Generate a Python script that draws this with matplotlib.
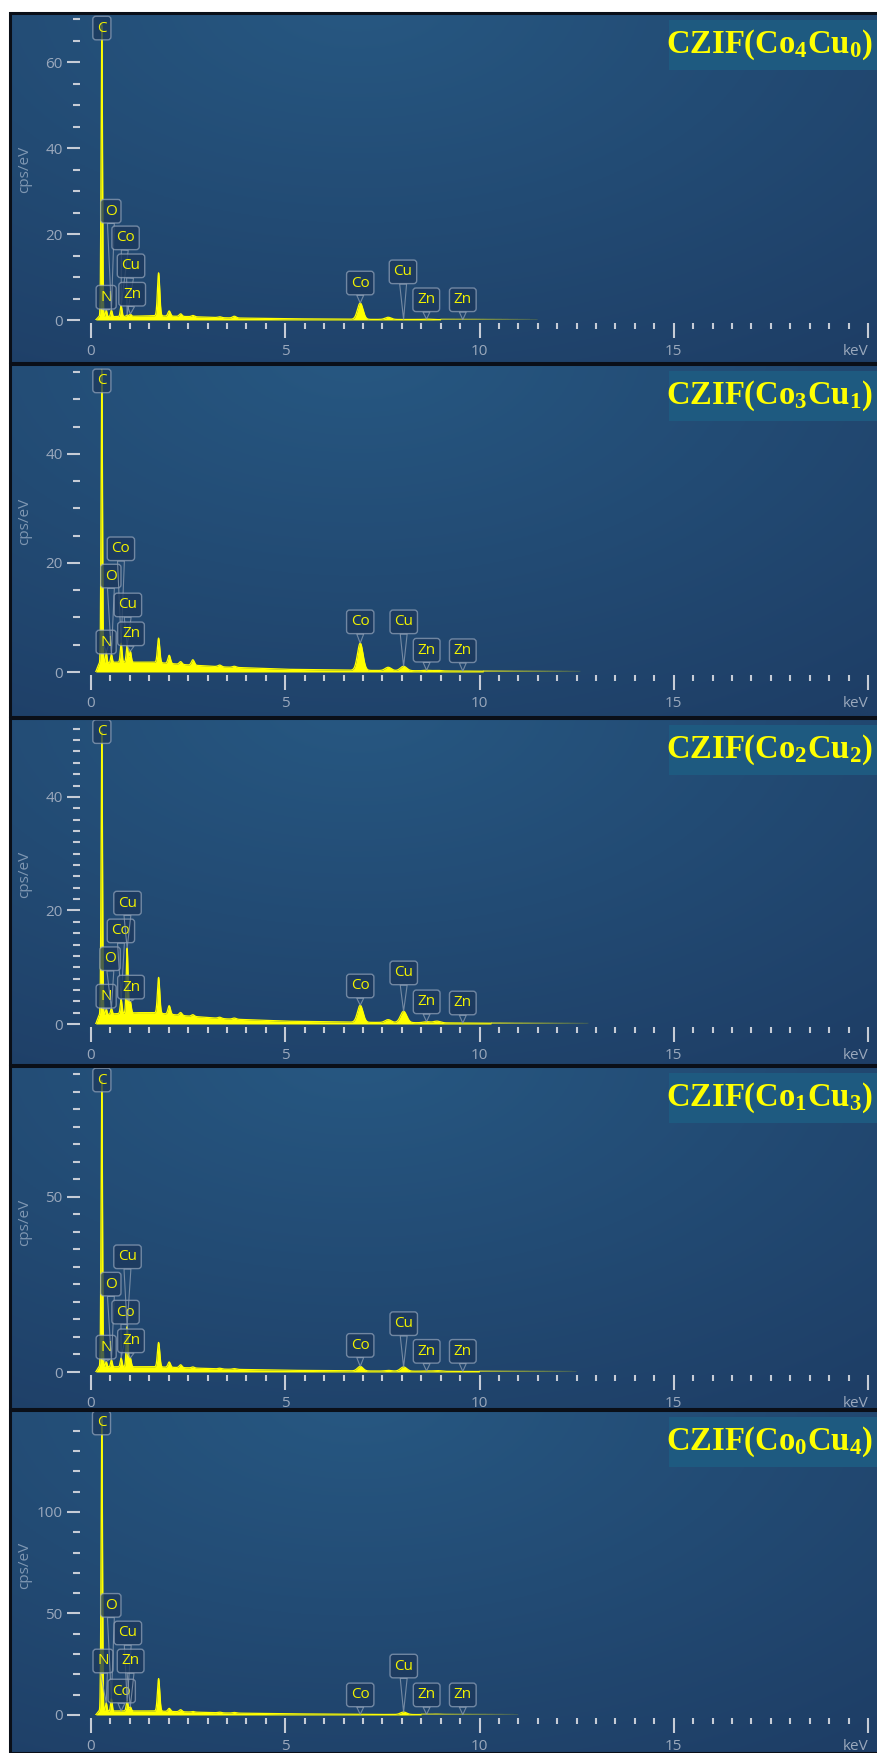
import numpy as np
import matplotlib.pyplot as plt
from matplotlib.patches import Rectangle
from matplotlib.collections import LineCollection
from matplotlib.ticker import MultipleLocator, FixedLocator, FuncFormatter

plt.rcParams['font.family'] = ['Open Sans', 'DejaVu Sans']
plt.rcParams['mathtext.fontset'] = 'custom'
plt.rcParams['mathtext.rm'] = 'Liberation Serif:bold'
plt.rcParams['mathtext.it'] = 'Liberation Serif:bold'
plt.rcParams['mathtext.bf'] = 'Liberation Serif:bold'

# samples, top to bottom
samples = ['CZIF(Co$_4$Cu$_0$)', 'CZIF(Co$_3$Cu$_1$)', 'CZIF(Co$_2$Cu$_2$)',
           'CZIF(Co$_1$Cu$_3$)', 'CZIF(Co$_0$Cu$_4$)']

# emission lines (keV) and peak heights (cps/eV) for each sample
line_names = ['C', 'N', 'O', 'Co', 'Cu', 'Zn', 'Si', 'P', 'S', 'Cl', 'K', 'Ca',
              'Co', 'Co', 'Cu', 'Zn', 'Cu', 'Zn']
line_kev = [0.277, 0.392, 0.525, 0.776, 0.930, 1.012, 1.740, 2.013, 2.307, 2.622,
            3.312, 3.690, 6.930, 7.649, 8.046, 8.637, 8.904, 9.570]
peaks_co4cu0 = [68, 1.5, 1.5, 2.5, 0.3, 0.5, 10, 1.2, 0.6, 0.3, 0.2, 0.4, 3.8, 0.5, 0.0, 0.1, 0.0, 0.0]
peaks_co3cu1 = [54, 2.0, 1.5, 3.5, 3.0, 2.0, 4.5, 1.5, 0.5, 1.0, 0.3, 0.2, 5.0, 0.6, 0.8, 0.1, 0.1, 0.0]
peaks_co2cu2 = [50, 1.0, 1.0, 2.5, 11.5, 2.0, 6.3, 1.5, 0.5, 0.3, 0.2, 0.2, 3.0, 0.5, 2.0, 0.2, 0.3, 0.0]
peaks_co1cu3 = [82, 1.5, 2.0, 2.5, 11.5, 2.5, 7.0, 1.5, 0.8, 0.3, 0.2, 0.2, 1.3, 0.2, 1.2, 0.1, 0.2, 0.0]
peaks_co0cu4 = [145, 4.0, 6.0, 0.0, 5.0, 2.0, 16, 1.5, 1.0, 0.3, 0.3, 0.3, 0.0, 0.0, 1.2, 0.1, 0.2, 0.0]

# continuum level
bg_kev = [0.12, 0.2, 0.6, 1.2, 1.6, 2.5, 3.5, 5.0, 7.0, 9.0, 11.0, 13.0]
bg_co4cu0 = [0, 0.8, 0.8, 0.9, 1.0, 0.8, 0.5, 0.3, 0.15, 0.1, 0.05, 0.0]
bg_co3cu1 = [0, 1.5, 1.8, 1.8, 1.8, 1.3, 0.9, 0.5, 0.3, 0.2, 0.1, 0.05]
bg_co2cu2 = [0, 1.5, 1.8, 2.0, 2.0, 1.4, 0.9, 0.5, 0.3, 0.2, 0.1, 0.05]
bg_co1cu3 = [0, 1.5, 1.5, 1.5, 1.5, 1.2, 0.8, 0.5, 0.3, 0.2, 0.1, 0.05]
bg_co0cu4 = [0, 2.0, 2.0, 2.0, 2.0, 1.5, 1.0, 0.6, 0.3, 0.2, 0.1, 0.05]

scan_end = [11.5, 12.6, 12.8, 12.5, 11.0]

peaks = [peaks_co4cu0, peaks_co3cu1, peaks_co2cu2, peaks_co1cu3, peaks_co0cu4]
backgrounds = [bg_co4cu0, bg_co3cu1, bg_co2cu2, bg_co1cu3, bg_co0cu4]

# which lines get a tag, and where each tag box sits (keV, cps/eV)
tagged = [0, 1, 2, 3, 4, 5, 12, 14, 15, 17]
tag_pos = [
    [(0.28, 67.9), (0.39, 5.3), (0.51, 25.3), (0.89, 19.1), (1.03, 12.6), (1.06, 6.0),
     (6.93, 8.6), (8.03, 11.2), (8.63, 4.7), (9.57, 4.7)],
    [(0.28, 53.4), (0.39, 5.5), (0.51, 17.6), (0.77, 22.6), (0.95, 12.3), (1.03, 7.0),
     (6.93, 9.2), (8.05, 9.2), (8.64, 4.0), (9.57, 3.9)],
    [(0.28, 51.5), (0.39, 4.9), (0.49, 11.5), (0.77, 16.4), (0.94, 21.3), (1.03, 6.5),
     (6.93, 6.7), (8.05, 9.0), (8.64, 3.9), (9.57, 3.7)],
    [(0.28, 83.4), (0.39, 7.1), (0.51, 25.1), (0.89, 17.1), (0.94, 32.9), (1.03, 8.9),
     (6.93, 7.6), (8.05, 13.8), (8.64, 5.9), (9.57, 5.9)],
    [(0.27, 143.8), (0.31, 26.6), (0.51, 54.0), (0.79, 11.8), (0.95, 40.4), (1.02, 26.6),
     (6.93, 9.9), (8.05, 24.1), (8.64, 9.9), (9.57, 9.9)],
]

# panel geometry in pixels
W, H = 877, 1753
panel_top = [13, 364, 718, 1066, 1410]
panel_bot = [363, 717, 1065, 1409, 1753]
zero_px = [320, 672, 1024, 1372, 1715]
y_top = [71.4, 56.5, 53.9, 87.4, 150.2]
y_major = [20, 20, 20, 50, 50]
y_minor = [5, 5, 2, 5, 10]
y_last_label = [60, 40, 40, 50, 100]

YELLOW = '#ffff00'
TICK = '#c6ccd6'
TICKLABEL = '#9aa8bc'


def gradient():
    xx, yy = np.meshgrid(np.linspace(0, 1, 300), np.linspace(1, 0, 150))
    d = np.sqrt(((xx - 0.4) / 0.95) ** 2 + ((yy - 1.05) / 1.3) ** 2)
    t = np.clip(d, 0, 1)[..., None]
    inner = np.array([39, 88, 130]) / 255
    outer = np.array([30, 62, 102]) / 255
    return inner * (1 - t) + outer * t


def spectrum(i):
    E = np.arange(0.12, scan_end[i], 0.004)
    y = np.interp(E, bg_kev, backgrounds[i])
    for e0, h in zip(line_kev, peaks[i]):
        s = 0.016 + 0.008 * e0
        y = y + h * np.exp(-0.5 * ((E - e0) / s) ** 2)
    return E, y


fig = plt.figure(figsize=(W / 100, H / 100), dpi=100)
fig.patch.set_facecolor('white')
bg_img = gradient()

for i in range(5):
    pt, pb, z0 = panel_top[i], panel_bot[i], zero_px[i]

    back = fig.add_axes([10 / W, 1 - pb / H, (W - 10) / W, (pb - pt) / H])
    back.imshow(bg_img, extent=[0, 1, 0, 1], aspect='auto', zorder=0)
    back.set_xlim(0, 1)
    back.set_ylim(0, 1)
    back.axis('off')

    ax = fig.add_axes([91 / W, 1 - z0 / H, 777 / W, (z0 - pt) / H])
    ax.patch.set_visible(False)
    ax.set_xlim(0, 20)
    ax.set_ylim(0, y_top[i])
    for side in ax.spines.values():
        side.set_visible(False)
    ax.spines['left'].set_position(('outward', 8))
    ax.spines['bottom'].set_position(('outward', 2))

    ax.xaxis.set_major_locator(FixedLocator([0, 5, 10, 15, 20]))
    ax.set_xticklabels(['0', '5', '10', '15', 'keV'])
    ax.get_xticklabels()[-1].set_horizontalalignment('right')
    ax.xaxis.set_minor_locator(MultipleLocator(0.5))
    ax.yaxis.set_major_locator(MultipleLocator(y_major[i]))
    ax.yaxis.set_minor_locator(MultipleLocator(y_minor[i]))
    last = y_last_label[i]
    ax.yaxis.set_major_formatter(FuncFormatter(lambda v, p, last=last: f'{v:.0f}' if v <= last else ''))
    ax.tick_params(axis='x', which='major', length=11, width=1.5, color=TICK,
                   labelcolor=TICKLABEL, labelsize=11, pad=4)
    ax.tick_params(axis='x', which='minor', length=4.5, width=1.5, color=TICK)
    ax.tick_params(axis='y', which='major', length=9.5, width=1.5, color=TICK,
                   labelcolor=TICKLABEL, labelsize=11, pad=3)
    ax.tick_params(axis='y', which='minor', length=5, width=1.5, color=TICK)
    ax.set_ylabel('cps/eV', color='#7f97b2', fontsize=11, va='center')
    ax.yaxis.set_label_coords(-0.085, 0.49)

    # spectrum; the trace dims over the last couple of keV of the scan
    E, y = spectrum(i)
    solid = E <= scan_end[i] - 2.5
    ax.fill_between(E[solid], 0, y[solid], color=YELLOW, lw=0, zorder=3)
    ax.plot(E[solid], y[solid], color=YELLOW, lw=0.9, zorder=3)
    tail = ~solid
    pts = np.column_stack([E[tail], y[tail]])
    segs = np.stack([pts[:-1], pts[1:]], axis=1)
    fade = np.linspace(0.95, 0.15, len(segs))
    cols = np.column_stack([np.full(len(segs), 0.95), np.full(len(segs), 0.95),
                            np.full(len(segs), 0.1), fade])
    ax.add_collection(LineCollection(segs, colors=cols, lw=1.4, zorder=3))

    for k, (bx, by) in zip(tagged, tag_pos[i]):
        e0 = line_kev[k]
        tip = np.interp(e0, E, y)
        arrow = None
        if line_names[k] != 'C':
            arrow = dict(arrowstyle='wedge,tail_width=0.45', fc='none',
                         ec='#8a9bb0', lw=0.8, shrinkA=0, shrinkB=0, alpha=0.8)
        ax.annotate(line_names[k], xy=(e0, tip), xytext=(bx, by), textcoords='data',
                    ha='center', va='center', fontsize=11, color='#f2f200',
                    bbox=dict(boxstyle='round,pad=0.28,rounding_size=0.2',
                              fc=(0.11, 0.22, 0.36, 0.78), ec=(0.62, 0.68, 0.76, 0.65), lw=1),
                    arrowprops=arrow, annotation_clip=False, zorder=5)

    # sample name tag
    back.add_patch(Rectangle(((669 - 10) / (W - 10), 1 - 57 / (pb - pt)),
                             (W - 669) / (W - 10), 50 / (pb - pt),
                             fc='#1e5a80', ec='none', zorder=2))
    back.text((873 - 10) / (W - 10), 1 - 32 / (pb - pt), samples[i], ha='right', va='center',
              fontsize=23.5, color=YELLOW, family='Liberation Serif', weight='bold', zorder=3)

    fig.add_artist(Rectangle((10 / W, 1 - pb / H), (W - 8) / W, (pb - pt) / H,
                             transform=fig.transFigure, fill=False, ec='#0a0f18', lw=2.2))

fig.savefig('out.png', dpi=100)
